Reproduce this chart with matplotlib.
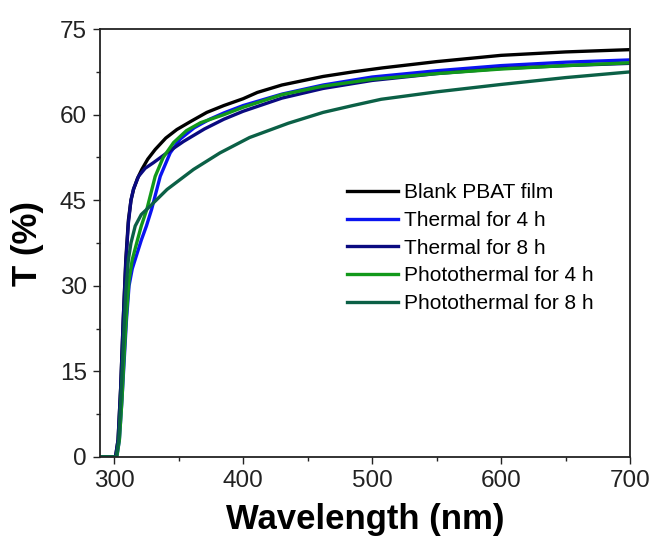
import matplotlib
matplotlib.use("Agg")
import matplotlib.pyplot as plt
from matplotlib.ticker import MultipleLocator

plt.rcParams['font.family'] = ['Liberation Sans', 'DejaVu Sans']

# Transmittance spectra
wl_blank = [290, 301, 303, 305, 307, 309, 311, 313, 315, 318, 321.4, 326, 331.8, 340, 348.6,
            360, 371.8, 385, 400, 411, 430, 462, 485, 508, 550, 600, 650, 700]
t_blank = [0, 0, 3, 12, 24, 34.6, 41.5, 45, 46.9, 48.8, 50.4, 52.2, 53.9, 55.9, 57.4,
           58.9, 60.4, 61.6, 62.8, 63.9, 65.2, 66.7, 67.5, 68.2, 69.3, 70.4, 71.0, 71.4]

wl_th4 = [290, 302, 304, 306, 307.5, 309.5, 311.5, 314, 317.5, 321, 325, 329, 335.7, 343.4,
          351, 362, 374, 385, 400, 430, 462, 500, 550, 600, 650, 700]
t_th4 = [0, 0, 3, 10, 16, 24, 30, 33, 35.5, 38, 40.5, 43.4, 49.2, 53.3,
         55.7, 57.7, 59.2, 60.3, 61.6, 63.6, 65.2, 66.6, 67.7, 68.6, 69.2, 69.6]

wl_th8 = [290, 301, 303, 305, 307, 309, 311, 313, 315, 318.9, 324, 330.5, 340.8, 353.7, 370,
          385, 400, 430, 462, 500, 550, 600, 650, 700]
t_th8 = [0, 0, 3, 12, 24, 34, 41, 45, 47, 49.2, 50.6, 51.6, 53.3, 55.3, 57.5,
         59.2, 60.6, 62.9, 64.6, 66.0, 67.2, 68.1, 68.6, 69.0]

wl_ph4 = [290, 302, 304, 306, 307.5, 309.5, 311.5, 314, 318, 321, 325.3, 331.8, 338, 346, 356,
          367, 385, 400, 430, 462, 500, 550, 600, 650, 700]
t_ph4 = [0, 0, 3, 10, 17, 25, 31, 34.6, 38, 40.5, 43.4, 49.2, 52.5, 55.1, 57.2,
         58.6, 60.0, 61.3, 63.5, 65.0, 66.2, 67.2, 68.0, 68.6, 69.1]

wl_ph8 = [290, 301.5, 303.5, 305.5, 307.5, 309, 311, 313, 316.3, 321, 328, 341, 361.5, 382,
          405, 435, 462, 485, 507, 550, 600, 650, 700]
t_ph8 = [0, 0, 3, 12, 22, 29, 34.6, 37.5, 40.5, 42.5, 44, 46.9, 50.4, 53.3,
         56.0, 58.5, 60.4, 61.6, 62.7, 64.0, 65.3, 66.5, 67.5]

labels = ["Blank PBAT film", "Thermal for 4 h", "Thermal for 8 h",
          "Photothermal for 4 h", "Photothermal for 8 h"]
colors = ["#000000", "#0a14f0", "#0a0a80", "#12991a", "#0b6046"]

fig = plt.figure(figsize=(6.58, 5.43), dpi=100)
ax = fig.add_axes([0.152, 0.1584, 0.8055, 0.788])

series = [(wl_blank, t_blank), (wl_th4, t_th4), (wl_th8, t_th8),
          (wl_ph4, t_ph4), (wl_ph8, t_ph8)]
for (x, y), lab, c in zip(series, labels, colors):
    ax.plot(x, y, color=c, lw=2.4, label=lab)

ax.set_xlim(289, 700)
ax.set_ylim(0, 75)
ax.xaxis.set_major_locator(MultipleLocator(100))
ax.xaxis.set_minor_locator(MultipleLocator(50))
ax.yaxis.set_major_locator(MultipleLocator(15))
ax.yaxis.set_minor_locator(MultipleLocator(7.5))
ax.tick_params(which='both', direction='out', width=1, labelsize=17.5, colors='#222222', pad=4.5)
ax.tick_params(which='major', length=5)
ax.tick_params(which='minor', length=3)
for s in ax.spines.values():
    s.set_linewidth(1.3)
    s.set_color('#222222')

ax.set_xlabel("Wavelength (nm)", fontsize=25, fontweight='bold', labelpad=8)
ax.set_ylabel("T (%)", fontsize=25, fontweight='bold', labelpad=11)

ax.legend(loc='center left', bbox_to_anchor=(0.466, 0.488), frameon=False, fontsize=15,
          borderpad=0, borderaxespad=0, handlelength=2.45, handletextpad=0.3,
          labelspacing=0.42)

fig.savefig("out.png", dpi=100)
